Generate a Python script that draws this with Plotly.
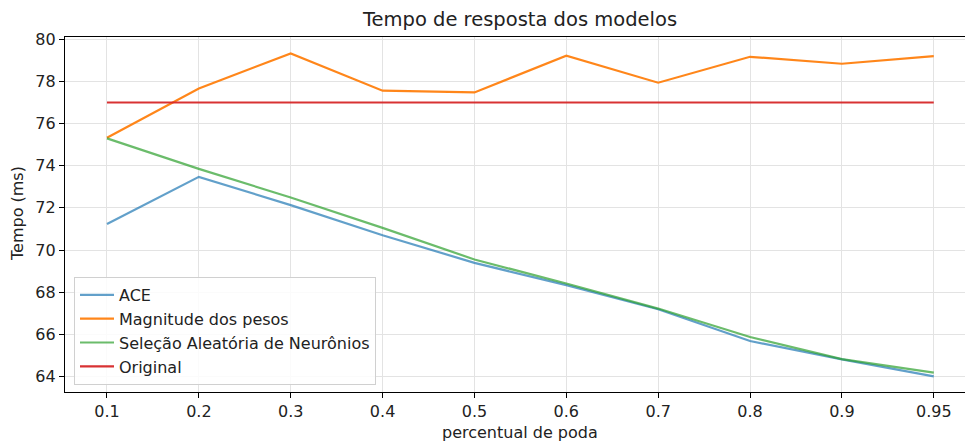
import plotly.graph_objects as go

categorias = ["0.1", "0.2", "0.3", "0.4", "0.5", "0.6", "0.7", "0.8", "0.9", "0.95"]
ace = [71.23, 73.47, 72.13, 70.70, 69.39, 68.33, 67.19, 65.68, 64.81, 64.00]
magnitude = [75.33, 77.67, 79.33, 77.56, 77.48, 79.22, 77.94, 79.17, 78.84, 79.20]
selecao = [75.30, 73.85, 72.49, 71.05, 69.55, 68.41, 67.22, 65.87, 64.82, 64.18]
original = [77.0] * len(categorias)

nomes = ["ACE", "Magnitude dos pesos", "Seleção Aleatória de Neurônios", "Original"]
cores = ["rgba(31,119,180,0.7)", "rgba(255,127,14,0.95)", "rgba(44,160,44,0.7)", "rgba(214,39,40,0.95)"]
series = [ace, magnitude, selecao, original]

fig = go.Figure()
for nome, cor, vals in zip(nomes, cores, series):
    fig.add_trace(go.Scatter(x=categorias, y=vals, mode="lines", name=nome,
                             line=dict(color=cor, width=2.2)))

font = "DejaVu Sans"
W, H = 965, 441
L, T, B = 65, 37, 49
PW, PH = 900, 355
fig.update_layout(
    width=W, height=H,
    margin=dict(l=L, r=0, t=T, b=B, autoexpand=False),
    paper_bgcolor="white", plot_bgcolor="white",
    font=dict(family=font, size=16, color="#222"),
    title=dict(text="Tempo de resposta dos modelos", x=520/W, xanchor="center",
               y=1 - 19/H, yanchor="middle", font=dict(size=19.5, color="#222"),
               automargin=False),
    legend=dict(x=(74-L)/PW, y=(392-385)/PH, xanchor="left", yanchor="bottom",
                bgcolor="rgba(255,255,255,0.85)", bordercolor="#d0d0d0", borderwidth=1,
                font=dict(size=16, color="#222"), tracegroupgap=0, itemwidth=34),
    showlegend=True,
    annotations=[
        dict(text="percentual de poda", x=(520-L)/PW, y=-(432-392)/PH,
             xref="paper", yref="paper",
             showarrow=False, font=dict(size=16, color="#222"),
             xanchor="center", yanchor="middle"),
        dict(text="Tempo (ms)", x=-(L-17)/PW, y=(392-214)/PH,
             xref="paper", yref="paper",
             showarrow=False, textangle=-90, font=dict(size=16, color="#222"),
             xanchor="center", yanchor="middle"),
    ],
)

fig.update_xaxes(type="category", range=[-0.457, 9.34], automargin=False,
                 showline=True, linecolor="black", linewidth=1.3, mirror=True,
                 ticks="outside", ticklen=5, tickcolor="black",
                 showgrid=True, gridcolor="#e3e3e3", gridwidth=1,
                 zeroline=False)
fig.update_yaxes(range=[63.26, 80.11], tickvals=[64, 66, 68, 70, 72, 74, 76, 78, 80],
                 automargin=False,
                 showline=True, linecolor="black", linewidth=1.3, mirror=False,
                 ticks="outside", ticklen=5, tickcolor="black",
                 showgrid=True, gridcolor="#e3e3e3", gridwidth=1,
                 zeroline=False)

fig.write_html("out.html", config={"displayModeBar": False},
               post_script="document.body.style.margin='0';document.body.style.overflow='hidden';")
